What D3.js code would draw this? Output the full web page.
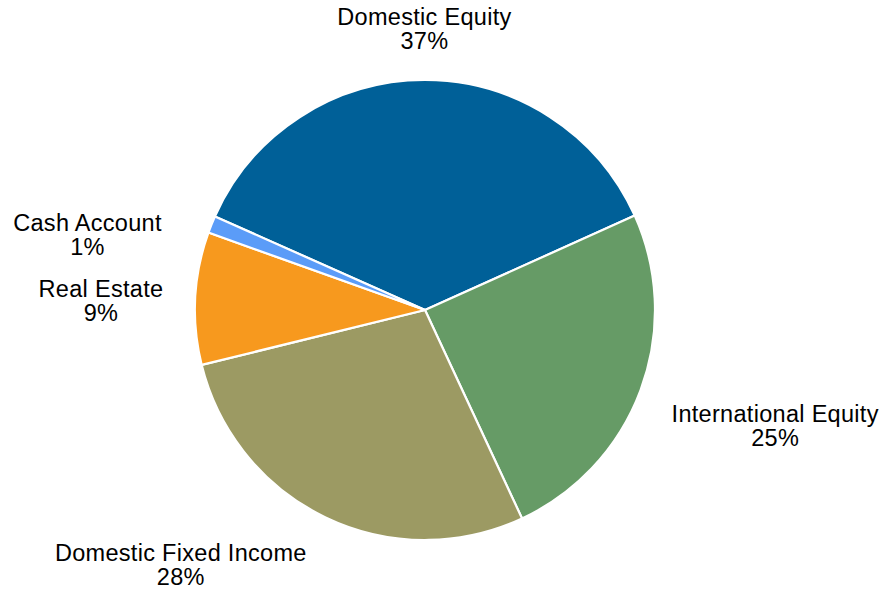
<!DOCTYPE html>
<html>
<head>
<meta charset="utf-8">
<script src="https://cdn.jsdelivr.net/npm/d3@7"></script>
<style>
  html, body { margin: 0; padding: 0; background: #fff; }
  svg text { font-family: "Liberation Sans", Arial, sans-serif; fill: #000; }
</style>
</head>
<body>
<svg id="chart" width="880" height="594"></svg>
<script>
// ---- data ----
const categories = ["Domestic Equity", "International Equity", "Domestic Fixed Income", "Real Estate", "Cash Account"];
const values = [36.6, 24.8, 28.1, 9.3, 1.2];
const percentLabels = ["37%", "25%", "28%", "9%", "1%"];
const colors = ["#006098", "#669B66", "#9C9A63", "#F7991E", "#5B9CF8"];

// ---- layout ----
const W = 880, H = 594;
const cx = 425, cy = 310, R = 230;
const labelRadius = 262;
const fontSize = 23.5, letterSpacing = 0.3, lineGap = 24, capH = 16.5;
const labelNudge = [[0, 1], [1, 17], [-5, 0], [0, 5], [-20, 30]];
const startDeg = -66;

const svg = d3.select("#chart");
const g = svg.append("g").attr("transform", `translate(${cx},${cy})`);

const data = categories.map((c, i) => ({ name: c, value: values[i], pct: percentLabels[i], color: colors[i], i }));

const pie = d3.pie().value(d => d.value).sort(null)
  .startAngle(startDeg * Math.PI / 180)
  .endAngle(startDeg * Math.PI / 180 + 2 * Math.PI);
const arcs = pie(data);
const arc = d3.arc().innerRadius(0).outerRadius(R);

g.selectAll("path.slice").data(arcs).enter().append("path")
  .attr("class", "slice")
  .attr("d", arc)
  .attr("fill", d => d.data.color)
  .attr("stroke", "#fff")
  .attr("stroke-width", 2.2)
  .attr("stroke-linejoin", "round");

// labels
const h = capH + lineGap;
arcs.forEach(a => {
  const mid = (a.startAngle + a.endAngle) / 2;
  const s = Math.sin(mid), c = Math.cos(mid);
  const ax = cx + labelRadius * s, ay = cy - labelRadius * c;
  const t = svg.append("text").attr("font-size", fontSize)
    .attr("letter-spacing", letterSpacing).attr("text-anchor", "middle");
  const t1 = t.append("tspan").text(a.data.name);
  const t2 = t.append("tspan").text(a.data.pct);
  const w = Math.max(t1.node().getComputedTextLength(), t2.node().getComputedTextLength());
  let left;
  if (s > 0.3) left = ax;
  else if (s < -0.3) left = ax - w;
  else left = ax - w / 2;
  const nd = labelNudge[a.data.i];
  left += nd[0];
  const top = ay - h / 2 - c * h / 2 + nd[1];
  const mx = left + w / 2;
  t1.attr("x", mx).attr("y", top + capH);
  t2.attr("x", mx).attr("y", top + capH + lineGap);
});
</script>
</body>
</html>
